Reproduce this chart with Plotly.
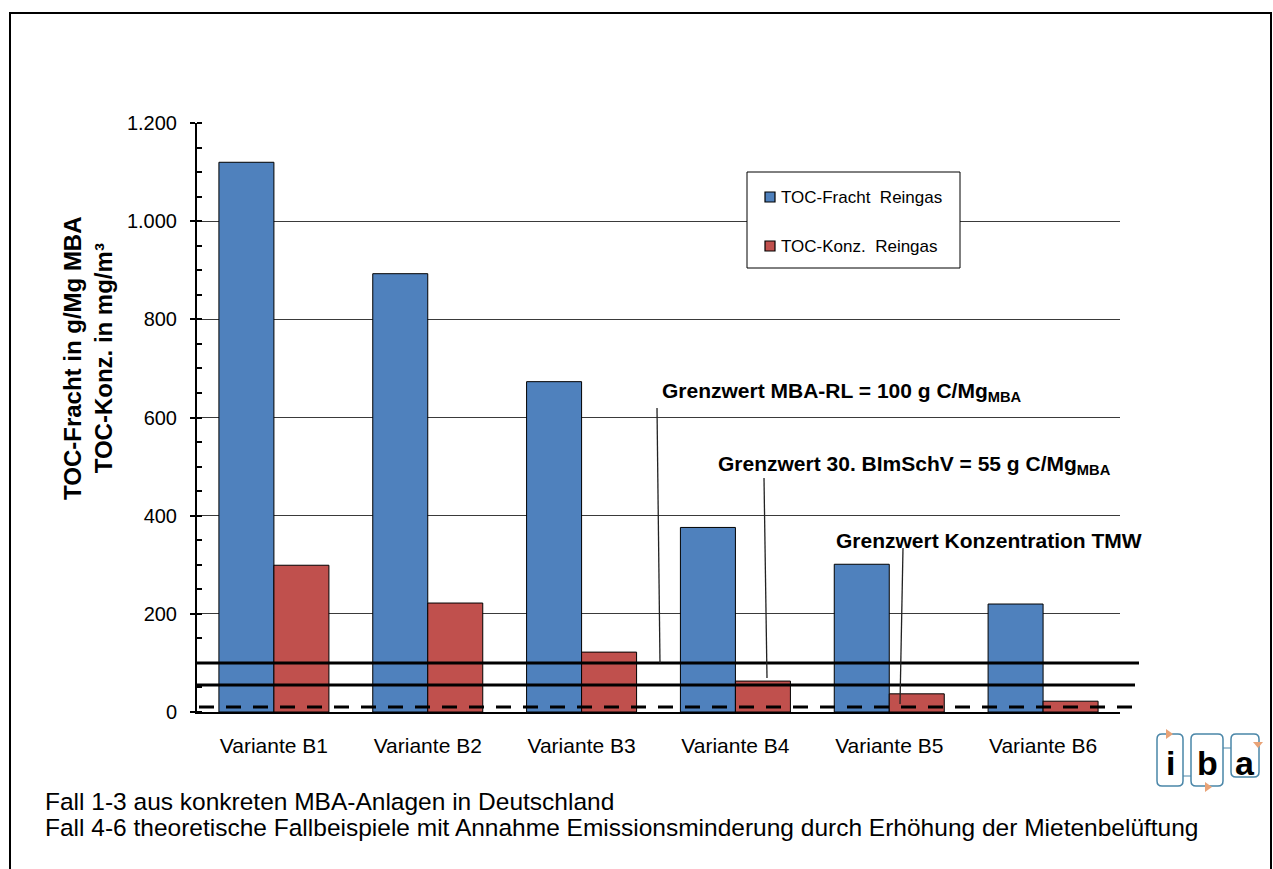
import plotly.graph_objects as go

# --- data -----------------------------------------------------------------
kategorien = ["Variante B1", "Variante B2", "Variante B3",
              "Variante B4", "Variante B5", "Variante B6"]
toc_fracht = [1120, 893, 673, 376, 301, 220]     # g/Mg MBA
toc_konz = [299, 222, 122, 63, 37, 22]           # mg/m³

serien_namen = ["TOC-Fracht  Reingas", "TOC-Konz.  Reingas"]

grenzwert_mba_rl = 100      # g C/Mg MBA
grenzwert_bimschv = 55      # g C/Mg MBA
grenzwert_tmw = 10          # mg/m³

y_ticks = [0, 200, 400, 600, 800, 1000, 1200]
y_range = [0, 1200]

# --- page geometry (pixels) -------------------------------------------------
W, H = 1273, 869
L, R, T, B = 197, 153, 123, 157
PW, PH = W - L - R, H - T - B


def px(p):
    """page pixel x -> paper x"""
    return (p - L) / PW


def py(p):
    """page pixel y -> paper y"""
    return (H - B - p) / PH


def vy(v):
    """data value -> paper y"""
    return (v - y_range[0]) / (y_range[1] - y_range[0])


FONT = "Liberation Sans, Arial, sans-serif"
BLUE = "#4F81BD"
RED = "#C0504D"
farben = [BLUE, RED]

fig = go.Figure()
for werte, name, farbe in zip([toc_fracht, toc_konz], serien_namen, farben):
    fig.add_trace(go.Bar(
        x=kategorien, y=werte, name=name,
        marker=dict(color=farbe, line=dict(color="black", width=1)),
        showlegend=False,
    ))

shapes = []
annotations = []

# legend box drawn by hand (framed, two entries)
shapes.append(dict(type="rect", xref="paper", yref="paper",
                   x0=px(747), x1=px(960), y0=py(172), y1=py(268),
                   fillcolor="white", line=dict(color="black", width=1), layer="above"))
for name, farbe, yc in zip(serien_namen, farben, [197, 246]):
    shapes.append(dict(type="rect", xref="paper", yref="paper",
                       x0=px(765), x1=px(775), y0=py(yc - 5), y1=py(yc + 5),
                       fillcolor=farbe, line=dict(color="black", width=1.2),
                       layer="above"))
    annotations.append(dict(xref="paper", yref="paper", x=px(779), y=py(yc),
                            text=name.replace("  ", "&nbsp; "), showarrow=False,
                            xanchor="left", yanchor="middle",
                            font=dict(family=FONT, size=17, color="black")))

# limit lines (reach a little past the plot area on the right)
shapes.append(dict(type="line", xref="paper", yref="paper",
                   x0=0, x1=px(1139), y0=vy(grenzwert_mba_rl), y1=vy(grenzwert_mba_rl),
                   line=dict(color="black", width=3)))
shapes.append(dict(type="line", xref="paper", yref="paper",
                   x0=0, x1=px(1135), y0=vy(grenzwert_bimschv), y1=vy(grenzwert_bimschv),
                   line=dict(color="black", width=3)))
shapes.append(dict(type="line", xref="paper", yref="paper",
                   x0=px(199), x1=px(1138), y0=vy(grenzwert_tmw), y1=vy(grenzwert_tmw),
                   line=dict(color="black", width=3, dash="15px,12px")))

# leader lines from the labels down to the limit lines
leaders = [((657, 408), (660, py(663))),
           ((764, 478), (767, py(678))),
           ((903, 548), (900, py(704)))]
for (x0, y0), (x1, y1p) in leaders:
    shapes.append(dict(type="line", xref="paper", yref="paper",
                       x0=px(x0), y0=py(y0), x1=px(x1), y1=y1p,
                       line=dict(color="#222222", width=1.3)))

# outer frame
shapes.append(dict(type="rect", xref="paper", yref="paper",
                   x0=px(10), y0=py(13), x1=px(1271), y1=py(875),
                   line=dict(color="black", width=2)))

# iba logo: three rounded boxes, connectors and small orange arrows
LOGO_BLUE = "#4A86A8"
LOGO_ORANGE = "#E9A377"


def rounded_box(x0, y0, x1, y1, r=5):
    return (f"M{px(x0+r)},{py(y0)} L{px(x1-r)},{py(y0)} "
            f"Q{px(x1)},{py(y0)} {px(x1)},{py(y0+r)} "
            f"L{px(x1)},{py(y1-r)} Q{px(x1)},{py(y1)} {px(x1-r)},{py(y1)} "
            f"L{px(x0+r)},{py(y1)} Q{px(x0)},{py(y1)} {px(x0)},{py(y1-r)} "
            f"L{px(x0)},{py(y0+r)} Q{px(x0)},{py(y0)} {px(x0+r)},{py(y0)} Z")


for bx in [(1157, 734, 1183, 786), (1191, 734, 1223, 786), (1231, 734, 1259, 777)]:
    shapes.append(dict(type="path", xref="paper", yref="paper",
                       path=rounded_box(*bx),
                       line=dict(color=LOGO_BLUE, width=1.5)))
shapes.append(dict(type="line", xref="paper", yref="paper",
                   x0=px(1183), x1=px(1191), y0=py(776), y1=py(776),
                   line=dict(color=LOGO_BLUE, width=1)))
shapes.append(dict(type="line", xref="paper", yref="paper",
                   x0=px(1223), x1=px(1231), y0=py(748), y1=py(748),
                   line=dict(color=LOGO_BLUE, width=1)))


def tri(points):
    p = [f"{px(x)},{py(y)}" for x, y in points]
    return "M" + " L".join(p) + " Z"


for pts in [[(1166, 729), (1166, 739), (1173, 734)],
            [(1205, 782), (1205, 792), (1212, 787)],
            [(1253, 742), (1263, 742), (1258, 748)]]:
    shapes.append(dict(type="path", xref="paper", yref="paper", path=tri(pts),
                       fillcolor=LOGO_ORANGE, line=dict(color=LOGO_ORANGE, width=0)))

# y-axis title
annotations.append(dict(
    xref="paper", yref="paper", x=px(88), y=py(358), showarrow=False,
    text="<b>TOC-Fracht in g/Mg MBA<br>TOC-Konz. in mg/m³</b>",
    textangle=-90, font=dict(family=FONT, size=24, color="black"),
    xanchor="center", yanchor="middle",
))

# limit labels
for txt, x, y in [
    ("<b>Grenzwert MBA-RL = 100 g C/Mg<sub>MBA</sub></b>", 660, 392),
    ("<b>Grenzwert 30. BImSchV = 55 g C/Mg<sub>MBA</sub></b>", 716, 465),
    ("<b>Grenzwert Konzentration TMW</b>", 834, 540),
]:
    annotations.append(dict(xref="paper", yref="paper", x=px(x), y=py(y),
                            text=txt, showarrow=False, xanchor="left",
                            yanchor="middle",
                            font=dict(family=FONT, size=21, color="black")))

# logo letters
for ch, x in [("i", 1170), ("b", 1207), ("a", 1245)]:
    annotations.append(dict(xref="paper", yref="paper", x=px(x), y=py(763),
                            text=f"<b>{ch}</b>", showarrow=False,
                            xanchor="center", yanchor="middle",
                            font=dict(family=FONT, size=34, color="black")))

# footnote
for txt, y in [("Fall 1-3 aus konkreten MBA-Anlagen in Deutschland", 802),
               ("Fall 4-6 theoretische Fallbeispiele mit Annahme Emissionsminderung "
                "durch Erhöhung der Mietenbelüftung", 827)]:
    annotations.append(dict(xref="paper", yref="paper", x=px(43), y=py(y),
                            text=txt, showarrow=False, xanchor="left",
                            yanchor="middle",
                            font=dict(family=FONT, size=24.5, color="black")))

fig.update_layout(
    width=W, height=H,
    margin=dict(l=L, r=R, t=T, b=B, autoexpand=False),
    paper_bgcolor="white", plot_bgcolor="white",
    separators=",.",
    barmode="group", bargap=0.285, bargroupgap=0,
    font=dict(family=FONT, color="black"),
    showlegend=False,
    xaxis=dict(
        type="category", range=[-0.5, 5.5],
        showline=True, linecolor="black", linewidth=1.5,
        ticks="", showgrid=False,
        tickfont=dict(family=FONT, size=21, color="black"),
        ticklabelstandoff=14,
    ),
    yaxis=dict(
        range=y_range, tickvals=y_ticks, tickformat=",d",
        showline=True, linecolor="black", linewidth=2,
        ticks="outside", ticklen=5, tickwidth=2, tickcolor="black",
        minor=dict(dtick=50, ticks="inside", ticklen=5, tickwidth=2,
                   tickcolor="black", showgrid=False),
        showgrid=True, gridcolor="#3a3a3a", gridwidth=1,
        zeroline=False,
        tickfont=dict(family=FONT, size=20, color="black"),
        ticklabelstandoff=9,
    ),
    shapes=shapes,
    annotations=annotations,
)

fig.write_html("out.html")
